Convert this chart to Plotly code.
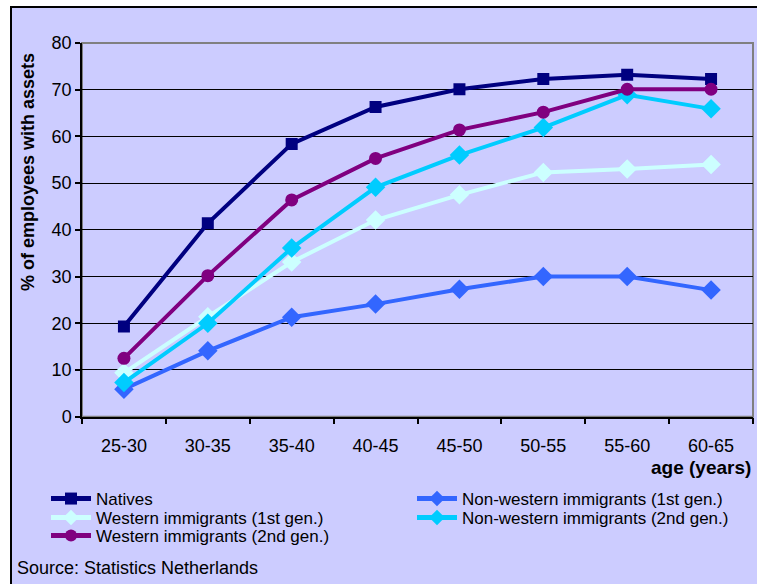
import plotly.graph_objects as go

# Age bands and share of employees holding assets (%)
age_groups = ["25-30", "30-35", "35-40", "40-45", "45-50", "50-55", "55-60", "60-65"]
natives = [19.3, 41.4, 58.4, 66.3, 70.1, 72.3, 73.2, 72.3]
nonwestern_1st = [5.9, 14.1, 21.3, 24.1, 27.3, 30.0, 30.0, 27.1]
western_1st = [9.4, 21.4, 33.1, 42.1, 47.5, 52.3, 53.0, 54.0]
nonwestern_2nd = [7.3, 20.0, 36.1, 49.1, 56.0, 61.9, 68.9, 65.9]
western_2nd = [12.5, 30.2, 46.4, 55.3, 61.4, 65.2, 70.1, 70.1]

W, H = 757, 584
# plot-area edges in pixels
PL, PR, PT, PB = 82, 753, 43, 416.7


def px(x):
    return x / W


def py(y):
    return 1 - y / H


BG = "#CCCCFF"
FONT = "Liberation Sans, Arial, sans-serif"

# name, values, colour, marker symbol, marker size, legend id, legend row position (px)
series = [
    ("Natives", natives, "#000080", "square", 12, "legend", (46, 499)),
    ("Non-western immigrants (1st gen.)", nonwestern_1st, "#3366FF", "diamond", 15, "legend4", (412, 499)),
    ("Western immigrants (1st gen.)", western_1st, "#CCFFFF", "diamond", 15, "legend2", (46, 518)),
    ("Non-western immigrants (2nd gen.)", nonwestern_2nd, "#00CCFF", "diamond", 15, "legend5", (412, 518)),
    ("Western immigrants (2nd gen.)", western_2nd, "#800080", "circle", 13, "legend3", (46, 536)),
]

fig = go.Figure()
legends = {}
for name, vals, color, sym, size, leg, (lx, ly) in series:
    fig.add_trace(go.Scatter(
        x=age_groups, y=vals, name=name, mode="lines+markers",
        line=dict(color=color, width=4),
        marker=dict(symbol=sym, size=size, color=color, line=dict(width=0)),
        legend=leg,
    ))
    legends[leg] = dict(
        x=px(lx), y=py(ly), xanchor="left", yanchor="middle",
        orientation="v", bgcolor="rgba(0,0,0,0)", borderwidth=0,
        font=dict(size=17, family=FONT), itemwidth=40, itemsizing="constant",
    )

fig.update_layout(
    width=W, height=H,
    margin=dict(l=0, r=0, t=0, b=0, autoexpand=False),
    paper_bgcolor="white",
    plot_bgcolor=BG,
    font=dict(family=FONT, color="black", size=18),
    showlegend=True,
    xaxis=dict(
        domain=[px(PL), px(PR)], automargin=False,
        type="category", range=[-0.5, 7.5],
        showline=True, linecolor="black", linewidth=1.5,
        ticks="outside", ticklen=6, tickcolor="black", tickwidth=1.5,
        tickson="boundaries", showgrid=False,
        ticklabelstandoff=12, tickfont=dict(size=18),
    ),
    yaxis=dict(
        domain=[py(PB), py(PT)], automargin=False,
        range=[0, 80], dtick=10,
        showline=True, linecolor="black", linewidth=1.5,
        ticks="outside", ticklen=5, tickcolor="black", tickwidth=1.5,
        showgrid=True, gridcolor="black", gridwidth=1.2,
        zeroline=False, tickfont=dict(size=18),
    ),
    shapes=[
        # outer chart frame
        dict(type="rect", xref="paper", yref="paper", layer="below",
             x0=px(11), y0=py(H + 20), x1=px(W + 20), y1=py(7),
             fillcolor=BG, line=dict(color="black", width=2)),
        # plot area border (top/right)
        dict(type="rect", xref="paper", yref="paper", layer="below",
             x0=px(PL), y0=py(PB), x1=px(PR), y1=py(PT),
             line=dict(color="#808080", width=2)),
    ],
    annotations=[
        dict(text="<b>% of employees with assets</b>", textangle=-90,
             xref="paper", yref="paper", x=px(28), y=py(172),
             xanchor="center", yanchor="middle", showarrow=False,
             font=dict(size=18)),
        dict(text="<b>age (years)</b>", xref="paper", yref="paper",
             x=px(753), y=py(467), xanchor="right", yanchor="middle",
             showarrow=False, font=dict(size=19)),
        dict(text="Source: Statistics Netherlands", xref="paper", yref="paper",
             x=px(15), y=py(568), xanchor="left", yanchor="middle",
             showarrow=False, font=dict(size=18)),
    ],
)
fig.update_layout(**legends)

fig.write_html("out.html")
